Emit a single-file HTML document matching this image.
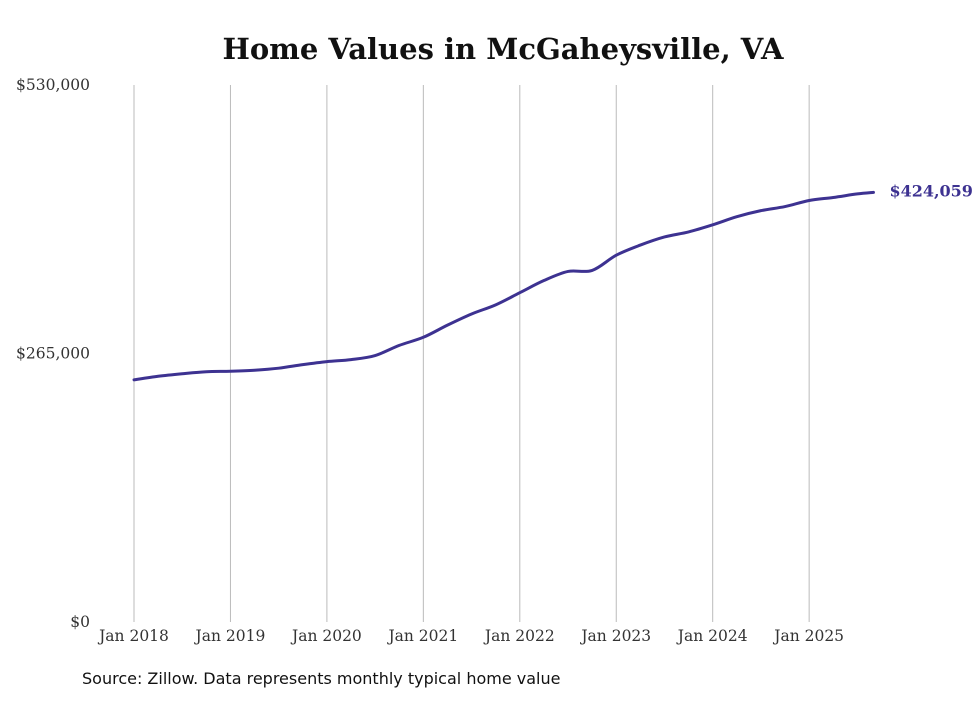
<!DOCTYPE html>
<html><head><meta charset="utf-8"><style>
body{margin:0;background:#fff;width:980px;height:699px;overflow:hidden}
svg text{font-family:"DejaVu Serif","Liberation Serif",serif}
</style></head><body>
<svg id="chart" width="980" height="699">
<text x="503" y="59" text-anchor="middle" font-size="29" font-weight="bold" fill="#111">Home Values in McGaheysville, VA</text>
<g id="grid"></g><g id="yax"></g><g id="xax"></g><g id="series"></g>
<text x="82" y="684" font-size="16" fill="#111" style="font-family:'DejaVu Sans',sans-serif">Source: Zillow. Data represents monthly typical home value</text>
</svg>
<script>
const monthIdx=[0,3,6,9,12,15,18,21,24,27,30,33,36,39,42,45,48,51,54,57,60,63,66,69,72,75,78,81,84,87,90,92];
const values=[239000,242500,245000,247000,247500,248500,250500,254000,257000,259000,263000,273000,281000,293000,304000,313000,325000,337000,346000,347000,362000,372000,380000,385000,392000,400000,406000,410000,416000,419000,422500,424059];
const xTickLabels=["Jan 2018","Jan 2019","Jan 2020","Jan 2021","Jan 2022","Jan 2023","Jan 2024","Jan 2025"];
const yTicks=[0,265000,530000];
const lastLabel="$424,059";
const NS="http://www.w3.org/2000/svg";
const x0=134,pxPerMonth=96.45/12,yBase=622,yTop=85,yMax=530000;
const X=m=>x0+m*pxPerMonth;
const Y=v=>yBase-v/yMax*(yBase-yTop);
function mk(t,a,p){const e=document.createElementNS(NS,t);for(const k in a)e.setAttribute(k,a[k]);p.appendChild(e);return e;}
const grid=document.getElementById('grid'),xax=document.getElementById('xax'),yax=document.getElementById('yax'),ser=document.getElementById('series');
xTickLabels.forEach((l,i)=>{
 const gx=X(i*12);
 const ln=mk('line',{x1:gx,x2:gx,y1:yTop,y2:yBase,stroke:'#bbb','stroke-width':1},grid);
 
 
 const t=mk('text',{x:gx,y:641,'text-anchor':'middle','font-size':15.5,fill:'#333'},xax);
 t.textContent=l;
 
 
});
yTicks.forEach(v=>{
 const t=mk('text',{x:90,y:Y(v)+5,'text-anchor':'end','font-size':15.5,fill:'#333'},yax);
 t.textContent='$'+v.toLocaleString('en-US');
 
 
});
const pts=monthIdx.map((m,i)=>[X(m),Y(values[i])]);
let d='M'+pts[0][0]+','+pts[0][1];
for(let i=0;i<pts.length-1;i++){
 const p0=pts[Math.max(0,i-1)],p1=pts[i],p2=pts[i+1],p3=pts[Math.min(pts.length-1,i+2)];
 const c1=[p1[0]+(p2[0]-p0[0])/6,p1[1]+(p2[1]-p0[1])/6],c2=[p2[0]-(p3[0]-p1[0])/6,p2[1]-(p3[1]-p1[1])/6];
 d+=`C${c1[0]},${c1[1]} ${c2[0]},${c2[1]} ${p2[0]},${p2[1]}`;
}
const path=mk('path',{d:d,fill:'none',stroke:'#3d3291','stroke-width':3,'stroke-linejoin':'round','stroke-linecap':'round'},ser);


const lp=pts[pts.length-1];
const lt=mk('text',{x:lp[0]+16,y:lp[1]+4,'font-size':16,'font-weight':'bold',fill:'#3d3291'},ser);
lt.textContent=lastLabel;


</script>
</body></html>
